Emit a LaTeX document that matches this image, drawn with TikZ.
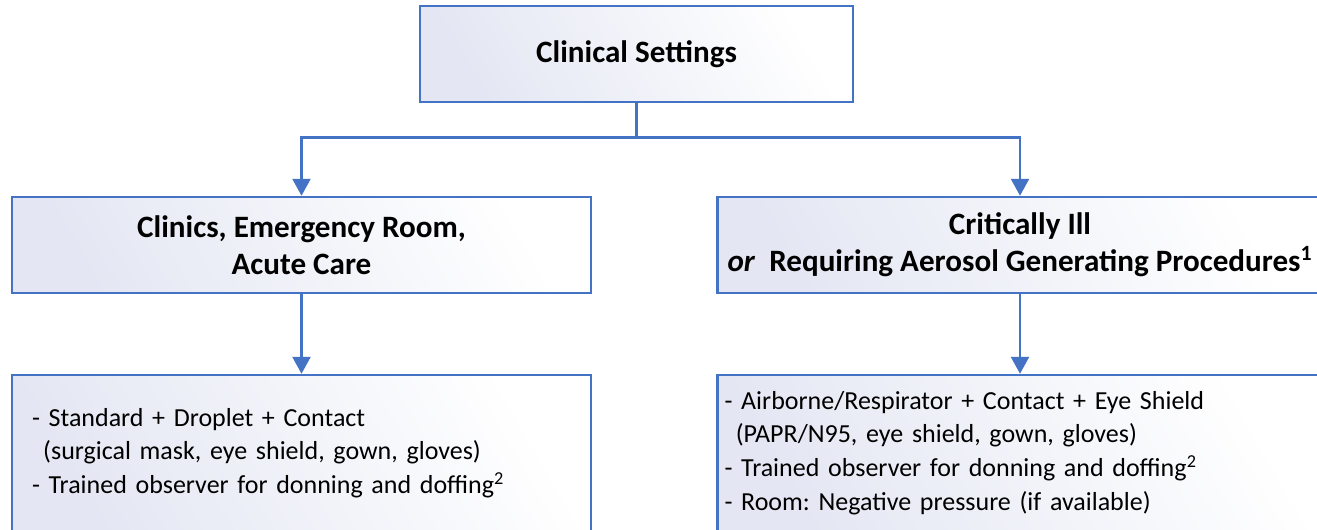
\documentclass[tikz,border=0pt]{standalone}
\usepackage{fontspec}
\setmainfont{Carlito}
\frenchspacing
\usetikzlibrary{arrows.meta,positioning}
\definecolor{boxline}{HTML}{4472C4}
\definecolor{boxtint}{HTML}{E4E7F3}
\tikzset{
 box/.style={draw=boxline,line width=0.05cm,left color=boxtint,right color=white,
  shading angle=120,inner sep=0pt,align=center},
 headbox/.style={box,font=\fontsize{17.7}{21}\selectfont\bfseries},
 listbox/.style={box,align=left,font=\fontsize{14.8}{19.2}\selectfont},
 link/.style={draw=boxline,line width=0.05cm},
 arrowlink/.style={link,-{Triangle[length=0.34cm,width=0.36cm]}}
}
\newcommand{\indnt}{\hspace*{0.43em}}
\begin{document}
\begin{tikzpicture}[x=0.02cm,y=-0.02cm]
 \clip (0,0) rectangle (1317,530);
 \useasboundingbox (0,0) rectangle (1317,530);
 \fill[white] (0,0) rectangle (1317,530);
 % boxes
 \node (settings) at (636.5,54) [headbox,minimum width=8.66cm,minimum height=1.92cm] {Clinical Settings};
 \node (clinics) at (301.5,245) [headbox,minimum width=11.58cm,minimum height=1.92cm] {Clinics, Emergency Room,\\Acute Care};
 \node (critical) at (1020,245) [headbox,minimum width=12.1cm,minimum height=1.92cm] {Critically Ill\\\textit{or}\ \ Requiring Aerosol Generating Procedures\textsuperscript{1}};
 \node (droplet) at (301.5,453) [listbox,minimum width=11.58cm,minimum height=3.12cm,text width=10.78cm,inner xsep=0.4cm] {%
  - Standard + Droplet + Contact\\
  \indnt(surgical mask, eye shield, gown, gloves)\\
  - Trained observer for donning and doffing\textsuperscript{2}};
 \node (airborne) at (1020,453) [listbox,minimum width=12.1cm,minimum height=3.12cm,text width=11.82cm,inner xsep=0.14cm] {%
  - Airborne/Respirator + Contact + Eye Shield\\
  \indnt(PAPR/N95, eye shield, gown, gloves)\\
  - Trained observer for donning and doffing\textsuperscript{2}\\
  - Room: Negative pressure (if available)};
 % connectors
 \coordinate (split) at (636.5,137.5);
 \draw[link] (settings) -- (split);
 \draw[arrowlink] (split) -| (clinics);
 \draw[arrowlink] (split) -| (critical);
 \draw[arrowlink] (clinics) -- (droplet);
 \draw[arrowlink] (critical) -- (airborne);
\end{tikzpicture}
\end{document}
